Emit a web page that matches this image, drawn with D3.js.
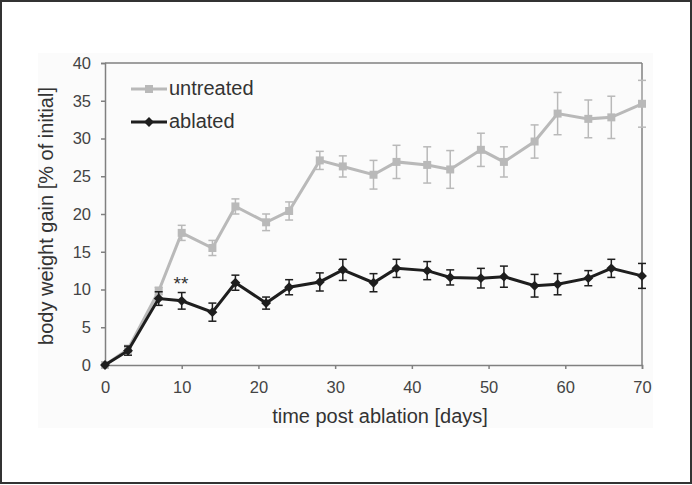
<!DOCTYPE html>
<html lang="en">
<head>
<meta charset="UTF-8">
<title>body weight gain</title>
<script src="https://d3js.org/d3.v7.min.js"></script>
<style>
  body { margin: 0; background: #fff; }
  text { font-family: Arial, "Liberation Sans", sans-serif; }
</style>
</head>
<body>
<svg id="chart" width="692" height="485"></svg>
<script>
// data
var days = [0, 3, 7, 10, 14, 17, 21, 24, 28, 31, 35, 38, 42, 45, 49, 52, 56, 59, 63, 66, 70];
var untreated = [0, 2.1, 9.8, 17.5, 15.5, 21.0, 18.9, 20.4, 27.1, 26.3, 25.2, 26.9, 26.5, 25.9, 28.5, 26.9, 29.6, 33.3, 32.6, 32.8, 34.6];
var untreatedErr = [0, 0.5, 0.5, 1.0, 1.0, 1.0, 1.1, 1.2, 1.2, 1.4, 1.9, 2.2, 2.4, 2.5, 2.2, 2.0, 2.2, 2.8, 2.5, 2.8, 3.1];
var ablated = [0, 1.9, 8.8, 8.5, 7.0, 10.9, 8.2, 10.3, 11.0, 12.6, 10.9, 12.8, 12.5, 11.6, 11.5, 11.7, 10.5, 10.7, 11.5, 12.8, 11.8];
var ablatedErr = [0, 0.6, 0.9, 1.1, 1.2, 1.0, 0.8, 1.0, 1.2, 1.4, 1.2, 1.2, 1.2, 1.0, 1.3, 1.4, 1.5, 1.4, 1.0, 1.2, 1.65];
var xTicks = [0, 10, 20, 30, 40, 50, 60, 70];
var yTicks = [0, 5, 10, 15, 20, 25, 30, 35, 40];

var svg = d3.select("#chart");

// outer frame + figure background
svg.append("rect")
    .attr("x", 1).attr("y", 1).attr("width", 690).attr("height", 482)
    .attr("fill", "#fff").attr("stroke", "#333").attr("stroke-width", 2);
svg.append("rect")
    .attr("x", 38).attr("y", 53).attr("width", 615).attr("height", 375)
    .attr("fill", "#fbfbfb");

var x = d3.scaleLinear().domain([0, 70]).range([105, 642]);
var y = d3.scaleLinear().domain([0, 40]).range([365, 63]);

// plot frame (top and right)
svg.append("line").attr("x1", 105).attr("x2", 642).attr("y1", 63).attr("y2", 63)
    .attr("stroke", "#808080").attr("stroke-width", 1.5);
svg.append("line").attr("x1", 642).attr("x2", 642).attr("y1", 63).attr("y2", 365)
    .attr("stroke", "#808080").attr("stroke-width", 1.5);

var xAxis = svg.append("g")
    .attr("transform", "translate(0,365)")
    .call(d3.axisBottom(x).tickValues(xTicks).tickSize(4).tickPadding(12));
var yAxis = svg.append("g")
    .attr("transform", "translate(105,0)")
    .call(d3.axisLeft(y).tickValues(yTicks).tickSize(4).tickPadding(10));

[xAxis, yAxis].forEach(function (g) {
    g.select(".domain").attr("stroke", "#808080").attr("stroke-width", 1.5);
    g.selectAll(".tick line").attr("stroke", "#808080").attr("stroke-width", 1.5);
    g.selectAll(".tick text").attr("fill", "#444").attr("font-size", 16.5)
        .attr("font-family", "Arial, 'Liberation Sans', sans-serif");
});

svg.append("text")
    .attr("x", 380).attr("y", 423)
    .attr("text-anchor", "middle").attr("font-size", 20).attr("fill", "#333")
    .text("time post ablation [days]");
svg.append("text")
    .attr("transform", "translate(53,216) rotate(-90)")
    .attr("text-anchor", "middle").attr("font-size", 20).attr("fill", "#333")
    .text("body weight gain [% of initial]");

function drawSeries(vals, errs, color, shape) {
    var pts = days.map(function (d, i) { return { d: d, v: vals[i], e: errs[i] }; });
    var g = svg.append("g");
    var bars = g.selectAll(".err").data(pts.filter(function (p) { return p.e > 0; }))
        .enter().append("g");
    bars.append("line")
        .attr("x1", function (p) { return x(p.d); }).attr("x2", function (p) { return x(p.d); })
        .attr("y1", function (p) { return y(p.v - p.e); }).attr("y2", function (p) { return y(p.v + p.e); })
        .attr("stroke", color).attr("stroke-width", 1.5);
    [-1, 1].forEach(function (s) {
        bars.append("line")
            .attr("x1", function (p) { return x(p.d) - 4; }).attr("x2", function (p) { return x(p.d) + 4; })
            .attr("y1", function (p) { return y(p.v + s * p.e); }).attr("y2", function (p) { return y(p.v + s * p.e); })
            .attr("stroke", color).attr("stroke-width", 1.5);
    });
    g.append("path").datum(pts)
        .attr("d", d3.line().x(function (p) { return x(p.d); }).y(function (p) { return y(p.v); }))
        .attr("fill", "none").attr("stroke", color).attr("stroke-width", 3);
    g.selectAll(".mk").data(pts).enter().append("path")
        .attr("transform", function (p) { return "translate(" + x(p.d) + "," + y(p.v) + ")" + (shape === "diamond" ? " rotate(45)" : ""); })
        .attr("d", shape === "diamond" ? "M-3.5,-3.5H3.5V3.5H-3.5Z" : "M-4,-4H4V4H-4Z")
        .attr("fill", color);
}

drawSeries(untreated, untreatedErr, "#b9b9b9", "square");
drawSeries(ablated, ablatedErr, "#1e1e1e", "diamond");

svg.append("text")
    .attr("x", 181).attr("y", 290)
    .attr("text-anchor", "middle").attr("font-size", 19).attr("fill", "#333")
    .text("**");

// legend
var legend = [
    { name: "untreated", color: "#b9b9b9", shape: "square", y: 89 },
    { name: "ablated", color: "#1e1e1e", shape: "diamond", y: 122 }
];
legend.forEach(function (l) {
    svg.append("line").attr("x1", 131).attr("x2", 167).attr("y1", l.y).attr("y2", l.y)
        .attr("stroke", l.color).attr("stroke-width", 3);
    svg.append("path")
        .attr("transform", "translate(149," + l.y + ")" + (l.shape === "diamond" ? " rotate(45)" : ""))
        .attr("d", l.shape === "diamond" ? "M-3.5,-3.5H3.5V3.5H-3.5Z" : "M-4,-4H4V4H-4Z")
        .attr("fill", l.color);
    svg.append("text").attr("x", 169).attr("y", l.y + 6)
        .attr("font-size", 20).attr("fill", "#333").text(l.name);
});
</script>
</body>
</html>
